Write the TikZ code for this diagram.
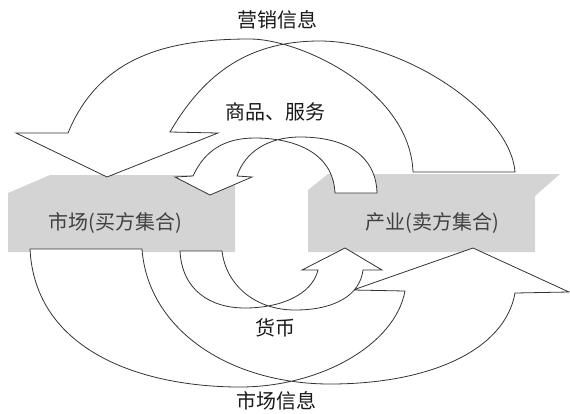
\documentclass[tikz,border=0pt]{standalone}
\usepackage{fontspec}
\setmainfont{Noto Sans CJK SC}
\begin{document}
\begin{tikzpicture}[x=1pt,y=-1pt,
  band/.style={draw=black!80, line width=0.8pt, fill=white, line join=miter},
  greybox/.style={fill=black!17, draw=none},
  lbl/.style={font=\fontsize{20}{24}\selectfont, text=black!90, inner sep=0pt},
  boxlbl/.style={font=\fontsize{20}{24}\selectfont, text=black!75, inner sep=0pt}]
\useasboundingbox (0,0) rectangle (570,413);
% grey boxes
\fill[greybox] (8,193) -- (50,175) -- (235,175) -- (235,252) -- (8,252) -- cycle;
\fill[greybox] (308,190) -- (328,174) -- (560,174) -- (535,196) -- (535,252) -- (308,252) -- cycle;
\node[boxlbl] (market) at (115,223) {市场(买方集合)};
\node[boxlbl] (industry) at (432,223) {产业(卖方集合)};
% top big arrow (marketing information)
\draw[band] (413,172) .. controls (410,90) and (300,39) .. (250,39)
  .. controls (170,39) and (100,55) .. (68,133) -- (16,133) -- (107,177) -- (218,133) -- (170,132)
  .. controls (205,72) and (250,41) .. (320,41) .. controls (400,41) and (510,110) .. (515,172) -- cycle;
% central top arrow (goods, services)
\draw[band] (335,193) .. controls (333,150) and (290,138) .. (255,138)
  .. controls (225,138) and (205,150) .. (193,176) -- (175,177) -- (210,195) -- (252,177) -- (237,176)
  .. controls (245,152) and (268,137) .. (300,137) .. controls (345,137) and (376,155) .. (377,193) -- cycle;
% bottom big arrow (market information)
\draw[band] (30,249) .. controls (35,350) and (140,387) .. (240,387)
  .. controls (320,387) and (395,345) .. (405,291) -- (353,290) -- (473,248) -- (569,292) -- (515,293)
  .. controls (505,350) and (430,384) .. (330,384) .. controls (230,384) and (148,330) .. (142,249) -- cycle;
% central bottom arrow (money)
\draw[band] (180,251) .. controls (182,290) and (210,308) .. (245,308)
  .. controls (280,308) and (312,295) .. (318,270) -- (302,270) -- (345,248) -- (382,270) -- (363,270)
  .. controls (360,295) and (335,310) .. (295,310) .. controls (255,310) and (226,285) .. (222,251) -- cycle;
% labels
\node[lbl] (info1) at (277,20) {营销信息};
\node[lbl] (goods) at (275,112) {商品、服务};
\node[lbl] (money) at (275,328) {货币};
\node[lbl] (info2) at (276,401) {市场信息};
\end{tikzpicture}
\end{document}
